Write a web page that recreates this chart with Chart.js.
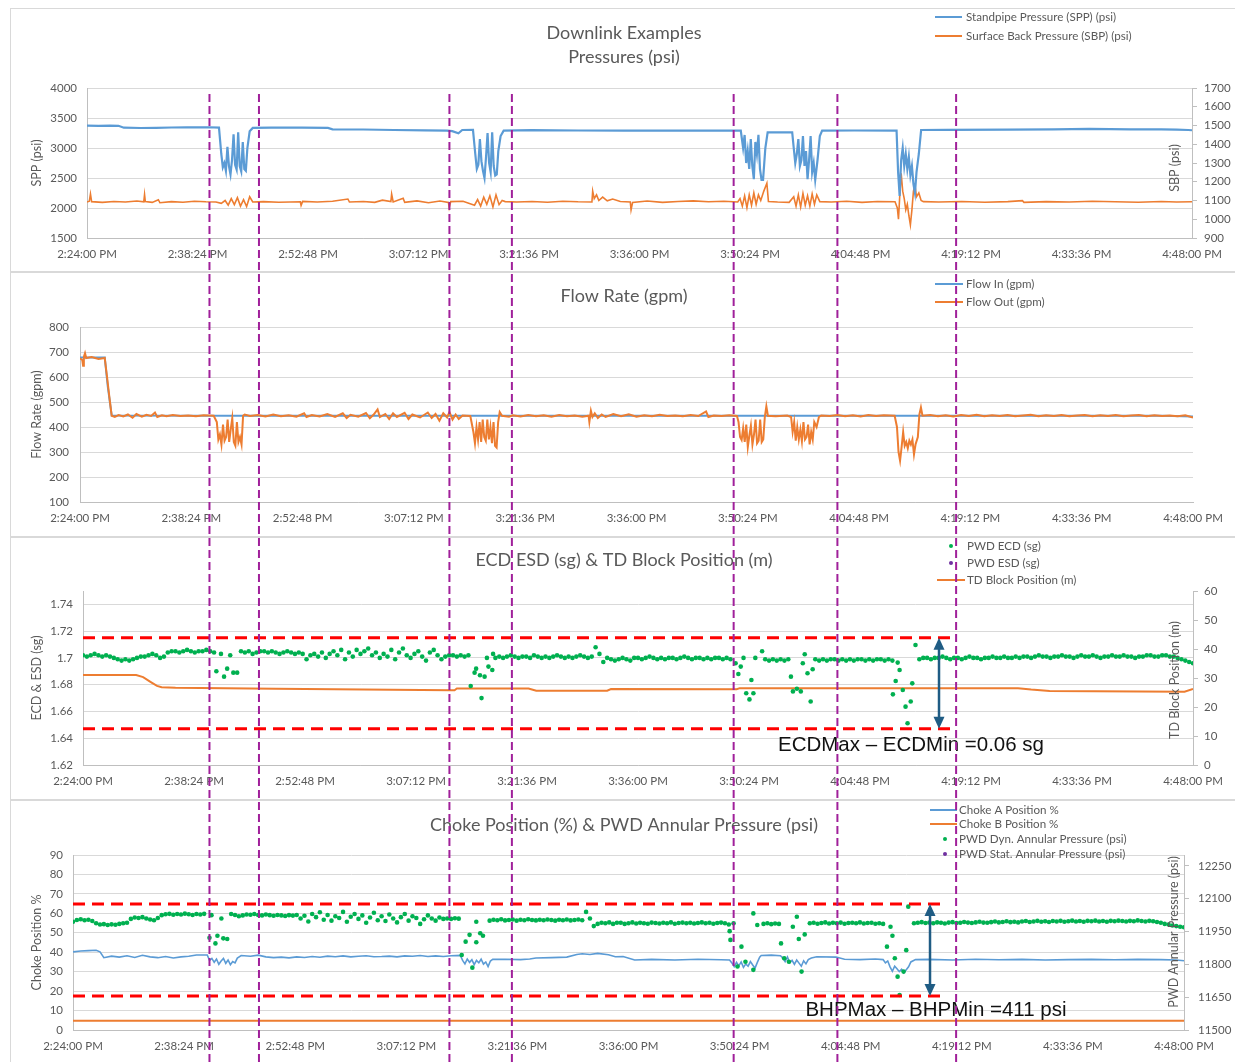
<!DOCTYPE html>
<html>
<head>
<meta charset="utf-8">
<script src="https://cdn.jsdelivr.net/npm/chart.js@4.4.1/dist/chart.umd.min.js"></script>
<style>
  body { margin: 0; background: #fff; width: 1235px; height: 1062px; overflow: hidden; position: relative; }
  .panel { position: absolute; left: 10px; width: 1228px; border: 1px solid #d9d9d9; background: #fff; }
  .panel canvas { display: block; }
  #overlay { position: absolute; left: 0; top: 90px; pointer-events: none; }
</style>
</head>
<body>
<div class="panel" style="top:8px;height:262px"><canvas id="c1" width="1228" height="262"></canvas></div>
<div class="panel" style="top:272px;height:263px"><canvas id="c2" width="1228" height="263"></canvas></div>
<div class="panel" style="top:537px;height:261px"><canvas id="c3" width="1228" height="261"></canvas></div>
<div class="panel" style="top:800px;height:261px"><canvas id="c4" width="1228" height="261"></canvas></div>
<canvas id="overlay" width="1235" height="972"></canvas>
<script>
// time in minutes after 2:24:00 PM
const timeTickLabels = ['2:24:00 PM', '2:38:24 PM', '2:52:48 PM', '3:07:12 PM', '3:21:36 PM', '3:36:00 PM',
  '3:50:24 PM', '4:04:48 PM', '4:19:12 PM', '4:33:36 PM', '4:48:00 PM'];
const tickStepMin = 14.4;

const sppTicks = [1500, 2000, 2500, 3000, 3500, 4000];
const sbpTicks = [900, 1000, 1100, 1200, 1300, 1400, 1500, 1600, 1700];
const flowTicks = [100, 200, 300, 400, 500, 600, 700, 800];
const ecdTicks = [1.62, 1.64, 1.66, 1.68, 1.7, 1.72, 1.74];
const blockTicks = [0, 10, 20, 30, 40, 50, 60];
const chokeTicks = [0, 10, 20, 30, 40, 50, 60, 70, 80, 90];
const annTicks = [11500, 11650, 11800, 11950, 12100, 12250];

// downlink marker times (purple dashed)
const downlinkMarks = [15.96, 22.41, 47.23, 55.37, 84.27, 97.79, 113.26];

// panel 1: pressures [min, psi]
const sppData = [[0,3372],[1.5,3368],[3,3374],[4.1,3370],[4.8,3338],[7,3333],[9,3336],[11,3342],[13,3345],[15.9,3346],[17.2,3340],
  [17.5,2900],[17.7,2680],[17.9,2750],[18.1,2620],[18.3,3020],[18.5,2700],[18.7,2560],[18.9,2800],[19.1,3230],[19.3,2720],
  [19.5,2640],[19.7,3260],[19.9,2700],[20.1,2610],[20.3,3100],[20.5,2650],[20.7,2620],[20.9,3000],[21.2,3280],[21.6,3335],
  [24,3338],[28,3340],[31.4,3336],[32,3312],[36,3308],[40,3300],[44,3294],[46.9,3289],[47.6,3280],[48.4,3245],[48.9,3300],[50.3,3302],
  [50.6,2900],[50.8,2650],[51.0,2720],[51.2,3150],[51.4,2780],[51.6,2620],[51.8,2500],[52.0,2850],[52.2,3250],[52.4,2750],
  [52.6,2600],[52.8,3260],[53.0,2700],[53.2,2540],[53.4,2560],[53.6,2950],[53.9,3200],[54.3,3290],
  [58,3298],[64,3292],[70,3288],[78,3290],[85.2,3289],
  [85.5,3000],[85.7,3217],[85.9,2750],[86.1,2950],[86.3,2650],[86.5,3150],[86.7,2700],[86.9,2480],[87.1,3100],[87.3,2900],
  [87.5,3220],[87.7,2650],[87.9,2470],[88.1,2470],[88.4,3000],[88.7,3262],[91.9,3262],
  [92.1,3000],[92.3,2750],[92.5,2900],[92.7,3150],[92.9,2700],[93.1,2800],[93.3,3200],[93.5,2700],[93.7,2950],[93.9,2480],
  [94.1,2800],[94.3,3200],[94.5,2600],[94.7,2750],[94.9,2470],[95.2,2800],[95.5,3200],[95.8,3290],[100,3292],[105.5,3290],
  [105.7,2600],[105.9,2200],[106.1,2800],[106.3,3000],[106.5,2700],[106.7,2900],[106.9,2650],[107.1,2850],[107.3,2550],
  [107.5,2700],[107.7,2400],[107.9,2250],[108.1,2600],[108.4,2900],[108.7,3300],
  [112,3302],[120,3305],[126,3310],[130.6,3318],[136,3312],[140,3310],[142,3306],[143.5,3300],[144,3296]];

const sbpData = [[0,1092],[0.3,1096],[0.45,1135],[0.6,1094],[2,1090],[3.5,1095],[5,1092],[6.5,1097],[7.4,1093],[7.5,1132],[7.6,1094],
  [8.5,1090],[9.3,1104],[9.5,1088],[11,1094],[12.5,1091],[14,1096],[15.5,1093],[16.8,1092],
  [17.5,1085],[18.0,1100],[18.4,1075],[18.8,1110],[19.2,1078],[19.6,1115],[20.0,1070],[20.4,1105],[20.8,1068],[21.2,1120],[21.6,1092],
  [23,1094],[25,1091],[27.8,1093],[27.9,1074],[28.1,1095],[30,1092],[32,1096],[34,1108],[34.2,1092],[36,1095],[37.5,1090],
  [38.5,1102],[39.6,1094],[39.7,1134],[39.9,1092],[41.2,1112],[41.4,1090],[43,1098],[44.5,1088],[46,1097],[47.1,1090],
  [47.2,1062],[47.4,1094],[49,1096],
  [50.5,1075],[50.9,1105],[51.3,1070],[51.7,1118],[52.1,1080],[52.5,1125],[52.9,1066],[53.3,1130],[53.7,1078],[54.1,1100],[54.5,1094],
  [56,1092],[58,1095],[60,1091],[62,1096],[64,1093],[65.8,1092],[65.9,1150],[66.1,1110],[66.4,1130],[66.7,1100],[67.2,1118],
  [67.8,1098],[68.5,1108],[69.5,1095],[70.8,1092],[70.9,1050],[71.1,1090],[73,1097],[75,1090],[77,1095],[79,1098],[81,1093],[83,1096],
  [84.8,1092],[85.1,1110],[85.4,1070],[85.7,1125],[86.0,1062],[86.3,1130],[86.6,1075],[86.9,1140],[87.2,1080],[87.5,1130],
  [87.8,1100],[88.2,1150],[88.6,1192],[88.8,1095],[90,1092],[91.5,1090],
  [92.1,1120],[92.4,1070],[92.7,1130],[93.0,1065],[93.3,1138],[93.6,1075],[93.9,1125],[94.2,1070],[94.5,1135],[94.8,1080],
  [95.1,1130],[95.5,1094],[97,1092],[99,1096],[101,1090],[103,1095],[105.3,1093],
  [105.6,1060],[105.75,1000],[105.95,1150],[106.1,1245],[106.3,1150],[106.5,1110],[106.7,1050],[106.9,1080],[107.1,1020],
  [107.3,970],[107.5,1050],[107.7,1150],[107.9,1180],[108.1,1120],[108.4,1140],[108.7,1100],[109,1094],
  [111,1092],[114,1095],[117,1091],[120,1094],[121.9,1099],[122.1,1090],[125,1094],[128,1092],[131,1096],[134,1093],
  [137,1091],[140,1095],[142,1092],[144,1093]];

// panel 2: flow rate [min, gpm]
const flowInData = [[0,678],[3.2,678],[3.6,560],[4.1,446],[20,445],[60,445],[100,445],[140,445],[144,442]];
const flowOutData = [[0,675],[0.3,668],[0.4,645],[0.5,680],[0.65,695],[0.8,676],[1.5,680],[2.4,672],[3.2,676],[3.5,600],[3.8,520],
  [4.1,445],[4.5,440],[5,448],[5.6,442],[6.2,450],[6.8,437],[7.3,452],[8,441],[8.6,449],[9.2,444],[9.7,458],[10,440],[10.6,447],
  [11.2,443],[12,448],[13,444],[14,446],[15,443],[16,447],[17.3,445],
  [17.7,420],[17.9,350],[18.1,370],[18.3,330],[18.5,410],[18.7,345],[18.9,360],[19.1,430],[19.3,340],[19.5,390],[19.7,435],
  [19.9,340],[20.1,325],[20.3,420],[20.5,340],[20.7,360],[20.9,330],[21.1,445],[21.3,450],
  [22,444],[23,448],[24,442],[25,450],[26,443],[27,447],[28,441],[29,455],[29.3,440],[30,448],[31,442],[32,452],[33,440],
  [34,455],[34.5,436],[35,449],[36,441],[37,456],[37.5,435],[38,450],[38.5,470],[38.8,440],[39.5,452],[40,432],[40.5,455],
  [41,440],[42,457],[42.5,432],[43,450],[44,438],[45,458],[45.5,436],[46,452],[46.5,425],[47,455],[47.5,438],[47.8,460],
  [48.2,430],[48.6,450],[49,432],[49.5,446],[50.5,444],
  [50.9,380],[51.1,335],[51.3,400],[51.5,350],[51.7,420],[51.9,340],[52.1,430],[52.3,360],[52.5,345],[52.7,430],[52.9,350],
  [53.1,400],[53.3,335],[53.5,420],[53.7,325],[53.9,318],[54.1,420],[54.3,460],[54.6,445],
  [55.5,441],[56,447],[57,442],[58,448],[59,443],[60,447],[61,441],[62,448],[63,443],[64,446],[65,441],[65.8,445],[65.9,420],
  [66.1,465],[66.3,440],[66.6,455],[67,436],[67.5,450],
  [68,440],[69,452],[70,443],[71,451],[72,441],[73,447],[74,443],[75,449],[76,444],[77,446],[78,443],[79,448],[80,444],
  [81,462],[81.3,440],[82,446],[83,444],[84,447],[85,444],
  [85.2,420],[85.4,360],[85.6,348],[85.8,395],[86.0,340],[86.2,410],[86.4,320],[86.6,365],[86.8,405],[87.0,330],[87.2,370],
  [87.4,430],[87.6,335],[87.8,345],[88.0,430],[88.2,340],[88.4,350],[88.6,440],[88.8,483],[89.0,445],[90,443],[91.5,446],
  [92.0,440],[92.2,380],[92.4,420],[92.6,345],[92.8,400],[93.0,350],[93.2,390],[93.4,343],[93.6,420],[93.8,350],[94.0,360],
  [94.2,410],[94.4,330],[94.6,380],[94.8,350],[95.0,420],[95.3,400],[95.6,440],[95.9,446],
  [97,444],[98,448],[99,443],[100,447],[101,442],[102,448],[103,444],[104,447],[105.4,445],
  [105.7,400],[105.9,300],[106.1,265],[106.3,320],[106.5,380],[106.7,325],[106.9,340],[107.1,315],[107.3,345],[107.5,330],
  [107.7,350],[107.9,290],[108.1,330],[108.4,360],[108.6,450],[108.8,478],[109,445],
  [110,448],[111,443],[112,447],[113,442],[114,448],[115,444],[116,449],[117,443],[118,447],[119,444],[120,448],[121,443],
  [122,446],[123,449],[124,443],[125,447],[126,444],[127,448],[128,443],[129,446],[130,448],[131,443],[132,447],[133,444],
  [134,448],[135,443],[136,446],[137,448],[138,443],[139,447],[140,444],[141,446],[142,443],[143,447],[144,438]];

// panel 3: PWD ECD, logged every 0.5 min: [start min, values]
const ecdStep = 0.5;
const ecdSegments = [
  [0, [1.702,1.701,1.702,1.703,1.702,1.701,1.702,1.701,1.700,1.699,1.698,1.699,1.698,1.699,1.700,1.701,1.701,1.702,
       1.703,1.702,1.700,1.701,1.704,1.705,1.705,1.704,1.705,1.706,1.705,1.704,1.705,1.705,1.706,1.705,1.704]],
  [20.5, [1.705,1.704,1.705,1.703,1.704,1.705,1.705,1.704,1.705,1.704,1.703,1.704,1.705,1.704,1.703,1.704,1.703,
       1.699,1.702,1.703,1.701,1.704,1.700,1.703,1.705,1.702,1.706,1.699,1.704,1.701,1.706,1.703,1.705,1.707,1.702,
       1.704,1.700,1.703,1.701,1.706,1.699,1.704,1.707,1.702,1.700,1.703,1.705,1.701,1.698,1.704,1.706,1.702,1.699,
       1.701,1.702,1.702,1.701,1.702,1.701,1.702]],
  [53.5, [1.700,1.701,1.700,1.701,1.702,1.701,1.700,1.701,1.701,1.700,1.702,1.701,1.700,1.701,1.700,1.701,1.702,
       1.701,1.700,1.701,1.700,1.701,1.702,1.701,1.700,1.701,1.708,1.703,1.697,1.700,1.699,1.698,
       1.699,1.700,1.699,1.698,1.700,1.700,1.699,1.700,1.701,1.700,1.699,1.700,1.699,1.700,1.700,1.699,1.700,1.701,
       1.700,1.699,1.700,1.700,1.699,1.700,1.699,1.700,1.700,1.699,1.700,1.699]],
  [88.5, [1.699,1.698,1.699,1.698,1.699,1.698,1.699]],
  [95, [1.699,1.698,1.699,1.698,1.699,1.699,1.698,1.699,1.698,1.699,1.698,1.699,1.699,1.698,1.699,1.698,1.699,
       1.699,1.698,1.699,1.698]],
  [108.5, [1.699,1.700,1.700,1.699,1.700,1.700,1.701,1.700,1.699,1.700,1.700,1.699,1.700,1.701,1.700,1.700,1.699,
       1.700,1.700,1.701,1.700,1.700,1.701,1.700,1.700,1.701,1.700,1.701,1.701,1.700,1.701,1.702,1.701,1.701,1.700,
       1.701,1.701,1.702,1.701,1.701,1.700,1.701,1.702,1.701,1.701,1.702,1.701,1.700,1.701,1.701,1.702,1.701,1.701,
       1.702,1.701,1.701,1.700,1.701,1.701,1.702,1.702,1.701,1.701,1.702,1.702,1.701,1.701,1.700,1.699,1.698,1.697,1.696]]
];
// scattered ECD readings during downlinks
const ecdDownlinkDots = [[17.3,1.690],[17.9,1.703],[18.3,1.686],[18.7,1.692],[19.1,1.702],[19.5,1.689],[20.0,1.689],
  [50.3,1.679],[50.8,1.689],[51.0,1.692],[51.5,1.687],[51.7,1.670],[52.1,1.686],[52.4,1.700],[52.6,1.6935],[53.1,1.691],[53.2,1.703],
  [84.66,1.696],[85.02,1.688],[85.33,1.6935],[85.69,1.700],[86.04,1.6736],[86.46,1.669],[86.71,1.6835],[86.97,1.6736],[87.22,1.700],[88.1,1.705],
  [91.84,1.686],[92.1,1.675],[92.61,1.677],[93.12,1.675],[93.38,1.696],[93.63,1.7027],[93.99,1.6885],[94.4,1.6674],[94.66,1.6915],
  [105.07,1.6728],[105.43,1.6828],[105.69,1.6965],[105.94,1.691],[106.35,1.676],[106.71,1.6636],[106.97,1.6512],[107.38,1.6674],[107.58,1.681],[108.0,1.7097]];
const esdData = [];
const blockData = [[0,31.0],[6.9,31.0],[7.8,30.3],[8.8,28.6],[9.6,27.3],[10.2,26.8],[12,26.6],[25,26.3],[47.7,25.8],[48.2,25.8],
  [48.5,26.4],[57.8,26.4],[58.8,25.6],[68,25.6],[68.5,26.2],[84.8,26.1],[85.2,26.5],[121.3,26.5],[123,26.0],[125.4,25.5],
  [142.9,25.3],[144,26.2]];
const ecdLimits = [1.715, 1.647];
const ecdLimitEnd = 113.26;
const ecdArrowTime = 111.05;
const ecdNote = 'ECDMax \u2013 ECDMin =0.06 sg';

// panel 4: choke % and annular pressure
const chokeAData = [[0,40.2],[1,40.6],[2,40.8],[3,41.0],[3.5,40.2],[4,37.2],[5,38.0],[6,37.5],[7,38.2],[8,37.3],[9,38.4],[10,37.6],
  [11,37.2],[12,37.8],[13,37.0],[14,37.6],[15,37.9],[16,38.6],[17.4,38.6],
  [17.7,35.8],[18.0,36.8],[18.3,34.8],[18.6,36.5],[18.9,33.8],[19.2,35.5],[19.5,36.8],[19.8,34.3],[20.1,36.0],[20.4,33.6],
  [20.7,35.2],[21.0,34.5],[21.3,37.0],[21.8,38.3],
  [23,37.9],[24,38.5],[25,37.6],[26,37.2],[27,37.5],[28,37.1],[29,37.6],[30,37.3],[31,37.8],[32,37.4],[33,38.0],[34,37.7],
  [35,38.1],[36,37.6],[37,37.9],[38,38.2],[39,37.7],[40,37.8],[41,38.0],[42,37.6],[43,38.1],[44,37.9],[45,38.3],[46,37.8],
  [47,38.1],[48,37.8],[49,38.2],[50.2,38.4],
  [50.5,35.8],[50.8,34.0],[51.1,36.5],[51.4,34.8],[51.7,36.2],[52.0,33.6],[52.3,35.8],[52.6,34.6],[52.9,36.4],[53.2,33.9],
  [53.5,35.0],[53.8,32.6],[54.1,35.5],[54.4,36.3],
  [56,36.4],[58,36.2],[59.2,36.5],[60,37.0],[62,37.2],[64,37.5],[65.3,38.8],[66,39.2],[67,38.8],[68,39.4],[69.4,38.7],
  [70.3,37.7],[71.3,37.8],[72.8,36.0],[75,36.3],[78,36.0],[81,36.4],[84,36.1],[85.1,36.0],
  [85.4,34.5],[85.7,32.6],[86.0,34.8],[86.3,33.0],[86.6,35.0],[86.9,32.2],[87.2,34.0],[87.5,32.8],[87.8,35.2],[88.1,33.4],
  [88.4,31.8],[88.7,34.8],[89.0,37.5],[89.2,38.3],[90.5,38.5],[91.7,38.2],
  [92.0,37.0],[92.3,35.2],[92.6,37.6],[92.9,34.6],[93.2,35.8],[93.5,33.8],[93.8,36.0],[94.1,34.4],[94.4,32.8],[94.7,35.6],
  [95.0,34.0],[95.3,36.2],[95.7,37.0],[96.4,37.7],[98.9,37.5],[100,36.4],[102,36.2],[104,36.5],[105.0,36.2],
  [105.3,34.5],[105.6,35.5],[105.9,32.5],[106.2,30.2],[106.5,32.8],[106.8,31.5],[107.1,30.0],[107.4,31.2],[107.7,29.4],
  [108.0,31.0],[108.3,32.5],[108.6,35.0],[109.2,36.2],
  [111,36.3],[114,36.0],[117,36.4],[120,36.1],[123,36.3],[126,36.0],[129,36.2],[132,36.3],[135,36.1],[138,36.3],[141,36.2],
  [143,36.0],[144,35.6]];
const chokeBData = [[0,4.8],[72,4.8],[144,4.8]];
const annStep = 0.5;
const annSegments = [
  [0, [11995,12003,12006,12002,12004,11998,11988,11982,11984,11980,11983,11981,11985,11988,11990,12008,12014,12012,
       12016,12010,12005,12002,12012,12025,12029,12031,12027,12030,12028,12032,12029,12026,12030,12028,12031]],
  [20.5, [12030,12026,12020,12024,12028,12027,12030,12026,12024,12028,12025,12022,12026,12024,12021,12025,12023,12026,
       12010,12022,11996,12030,12016,12038,12004,12026,12000,12020,12012,12040,11995,12018,12030,12008,12024,11990,
       12014,12036,12002,12020,11998,12028,12010,11992,12016,12030,12000,12020,12012,11985,12006,12024,12010,12000,
       12014,12008,12010,12008,12011,12009]],
  [54, [12000,12004,12002,12006,12001,12003,12005,12000,12004,12002,12006,12003,12001,12004,12002,12005,12003,12000,
       12004,12002,12005,12001,12003,12005,12002,12040,12010,11975,11985,11990,11988,11992,11985,11990,
       11990,11985,11988,11992,11987,11990,11988,11986,11991,11989,11987,11990,11988,11992,11986,11989,11991,11988,
       11990,11987,11989,11992,11988,11990,11986,11989,11991,11988,11982]],
  [89.5, [11985,11988,11984,11987,11985]],
  [95.5, [11988,11990,11986,11989,11992,11987,11990,11988,11991,11986,11989,11990,11988,11992,11987,11989,11990,
       11986,11988,11985]],
  [109, [11988,11990,11993,11989,11991,11988,11992,11990,11987,11991,11993,11989,11990,11994,11991,11989,11992,11995,
       11991,11990,11993,11996,11992,11994,11997,11993,11995,11992,11996,11998,11994,11996,11999,11995,11997,11994,
       11998,11996,11999,11995,11997,12000,11996,11998,11995,11999,11997,12000,11996,11998,11995,11999,11997,12000,
       11998,11996,11999,11997,12001,11998,11996,11999,11997,11994,11990,11985,11982,11978,11975,11972,11970]]
];
const annDownlinkDots = [[17.69,11922],[17.95,12025],[18.46,11896],[18.72,11931],[19.23,12010],[19.48,11919],[19.99,11916],
  [50.38,11843],[50.89,11904],[51.4,11935],[51.76,11785],[52.27,11995],[52.27,11901],[52.78,11942],[53.14,11931],
  [85.11,11952],[85.21,11912],[85.62,11988],[86.13,11790],[86.64,11881],[87.16,11812],[88.18,12033],[88.18,11775],[88.69,11980],
  [91.77,11896],[92.18,11828],[92.79,11812],[93.3,11972],[93.82,12018],[94.07,11916],[94.43,11767],[94.84,11937],
  [105.5,11881],[105.96,11972],[106.21,11931],[106.52,11828],[106.88,11744],[107.14,11660],[107.65,11767],[108.0,11865],[108.26,12064]];
const statData = [];
const bhpLimits = [12076, 11655];
const bhpLimitEnd = 113.28;
const bhpArrowTime = 111.08;
const bhpNote = 'BHPMax \u2013 BHPMin =411 psi';

// ---------------------------------------------------------------
const BLUE = '#5b9bd5', ORANGE = '#ed7d31', GREEN = '#00b050', PURPLE = '#7030a0', RED = '#ff0000';
const FONT = 'Lato, "Open Sans", sans-serif';

Chart.defaults.font.family = FONT;
Chart.defaults.font.size = 11.5;
Chart.defaults.color = '#595959';

function pts(pairs) { return pairs.map(p => ({ x: p[0], y: p[1] })); }
function segPts(segs, step) {
  const out = [];
  segs.forEach(([t0, vals]) => vals.forEach((v, i) => out.push({ x: t0 + i * step, y: v })));
  return out;
}

const decor = {
  id: 'decor',
  afterDatasetsDraw(chart, args, o) {
    if (!o.arrow) return;
    const ctx = chart.ctx;
    const ys = chart.scales[o.arrow.axis];
    const x = chart.scales.x.getPixelForValue(o.arrow.t);
    const y1 = ys.getPixelForValue(o.arrow.from), y2 = ys.getPixelForValue(o.arrow.to);
    ctx.save();
    ctx.strokeStyle = '#1f5c84'; ctx.fillStyle = '#1f5c84'; ctx.lineWidth = 2.5;
    ctx.beginPath(); ctx.moveTo(x, y1 + 10); ctx.lineTo(x, y2 - 10); ctx.stroke();
    ctx.beginPath(); ctx.moveTo(x, y1); ctx.lineTo(x - 5.5, y1 + 12); ctx.lineTo(x + 5.5, y1 + 12); ctx.closePath(); ctx.fill();
    ctx.beginPath(); ctx.moveTo(x, y2); ctx.lineTo(x - 5.5, y2 - 12); ctx.lineTo(x + 5.5, y2 - 12); ctx.closePath(); ctx.fill();
    ctx.restore();
  },
  afterDraw(chart, args, o) {
    const ctx = chart.ctx;
    ctx.save();
    ctx.fillStyle = '#595959';
    ctx.textAlign = 'center'; ctx.textBaseline = 'middle';
    ctx.font = '18px ' + FONT;
    (o.titles || []).forEach(t => ctx.fillText(t[0], 613, t[1]));
    if (o.legend) {
      const L = o.legend;
      ctx.font = '11.6px ' + FONT;
      ctx.textAlign = 'left';
      L.rows.forEach(([idx, y]) => {
        const ds = chart.data.datasets[idx];
        if (ds.showLine === false) {
          ctx.fillStyle = ds.pointBackgroundColor;
          ctx.beginPath(); ctx.arc(L.dot, y, 2, 0, Math.PI * 2); ctx.fill();
        } else {
          ctx.strokeStyle = ds.borderColor; ctx.lineWidth = 2;
          ctx.beginPath(); ctx.moveTo(L.x0, y); ctx.lineTo(L.x1, y); ctx.stroke();
        }
        ctx.fillStyle = '#595959';
        ctx.fillText(ds.label, L.text, y);
      });
    }
    if (o.rightTitle) {
      const r = o.rightTitle;
      ctx.save();
      ctx.translate(r.x, r.y); ctx.rotate(-Math.PI / 2);
      ctx.textAlign = 'center'; ctx.fillStyle = '#595959';
      ctx.font = '12.5px ' + FONT;
      ctx.fillText(r.text, 0, 0);
      ctx.restore();
    }
    if (o.note) {
      ctx.textAlign = 'center'; ctx.fillStyle = '#111';
      ctx.font = '20.5px "Liberation Sans", Arial, sans-serif';
      ctx.fillText(o.note.text, o.note.x, o.note.y);
    }
    ctx.restore();
  }
};

function timeAxis(h) {
  return {
    type: 'linear', position: 'bottom', min: 0, max: 144,
    afterBuildTicks: s => { s.ticks = timeTickLabels.map((l, i) => ({ value: i * tickStepMin })); },
    afterFit: s => { s.height = h; },
    ticks: { autoSkip: false, maxRotation: 0, minRotation: 0, padding: 9, callback: (v, i) => timeTickLabels[i] },
    grid: { drawOnChartArea: false, drawTicks: false },
    border: { color: '#bfbfbf' }
  };
}
function leftAxis(min, max, ticks, title, w, pad) {
  return {
    type: 'linear', position: 'left', min, max,
    afterBuildTicks: s => { s.ticks = ticks.map(v => ({ value: v })); },
    afterFit: s => { s.width = w; },
    ticks: { padding: pad, callback: v => String(v) },
    grid: { color: '#d9d9d9', drawTicks: false },
    border: { color: '#bfbfbf' },
    title: { display: true, text: title, font: { size: 12.5 }, padding: { top: 18.5, bottom: 0 } }
  };
}
function rightAxis(min, max, ticks, w, pad) {
  return {
    type: 'linear', position: 'right', min, max,
    afterBuildTicks: s => { s.ticks = ticks.map(v => ({ value: v })); },
    afterFit: s => { s.width = w; },
    ticks: { padding: pad, callback: v => String(v) },
    grid: { drawOnChartArea: false, drawTicks: true, tickLength: 5, color: '#bfbfbf' },
    border: { color: '#bfbfbf' }
  };
}
function opts(top, padRight, scales, dec) {
  return {
    responsive: false, animation: false, devicePixelRatio: 1,
    layout: { padding: { left: 0, right: padRight, top, bottom: 0 } },
    plugins: { legend: { display: false }, tooltip: { enabled: false }, decor: dec },
    elements: { point: { radius: 0 }, line: { tension: 0 } },
    scales
  };
}
// lower order is drawn on top
function lineDs(label, data, color, width, axis, order) {
  return { label, data: pts(data), borderColor: color, backgroundColor: color, borderWidth: width,
    pointRadius: 0, yAxisID: axis, order };
}
function dotDs(label, data, color, axis, order) {
  return { label, data, showLine: false, pointRadius: 2.3, pointBackgroundColor: color, pointBorderWidth: 0,
    borderColor: color, yAxisID: axis, order };
}
function limitDs(value, end, axis) {
  return { label: '', data: [{ x: 0, y: value }, { x: end, y: value }], borderColor: RED, borderWidth: 3,
    borderDash: [12, 7], pointRadius: 0, yAxisID: axis, order: 0 };
}

// Panel 1
new Chart(document.getElementById('c1'), {
  type: 'line',
  data: { datasets: [
    lineDs('Standpipe Pressure (SPP) (psi)', sppData, BLUE, 2.2, 'y', 1),
    lineDs('Surface Back Pressure (SBP) (psi)', sbpData, ORANGE, 1.6, 'y2', 2)
  ] },
  options: opts(79, 0, {
    x: timeAxis(33),
    y: leftAxis(1500, 4000, sppTicks, 'SPP (psi)', 76, 10),
    y2: rightAxis(900, 1700, sbpTicks, 47, 7)
  }, {
    titles: [['Downlink Examples', 24], ['Pressures (psi)', 48]],
    legend: { x0: 924, x1: 951, dot: 938, text: 955, rows: [[0, 8], [1, 27]] },
    rightTitle: { text: 'SBP (psi)', x: 1164, y: 159 }
  }),
  plugins: [decor]
});

// Panel 2
new Chart(document.getElementById('c2'), {
  type: 'line',
  data: { datasets: [
    lineDs('Flow In (gpm)', flowInData, BLUE, 2, 'y', 2),
    lineDs('Flow Out (gpm)', flowOutData, ORANGE, 2, 'y', 1)
  ] },
  options: opts(54, 46, {
    x: timeAxis(34),
    y: leftAxis(100, 800, flowTicks, 'Flow Rate (gpm)', 69, 11)
  }, {
    titles: [['Flow Rate (gpm)', 23]],
    legend: { x0: 924, x1: 952, dot: 938, text: 955, rows: [[0, 11], [1, 29]] }
  }),
  plugins: [decor]
});

// Panel 3
new Chart(document.getElementById('c3'), {
  type: 'line',
  data: { datasets: [
    dotDs('PWD ECD (sg)', segPts(ecdSegments, ecdStep).concat(pts(ecdDownlinkDots)), GREEN, 'y', 1),
    dotDs('PWD ESD (sg)', esdData, PURPLE, 'y', 1),
    lineDs('TD Block Position (m)', blockData, ORANGE, 2, 'y2', 2),
    limitDs(ecdLimits[0], ecdLimitEnd, 'y'),
    limitDs(ecdLimits[1], ecdLimitEnd, 'y')
  ] },
  options: opts(53, 0, {
    x: timeAxis(34),
    y: leftAxis(1.62, 1.75, ecdTicks, 'ECD & ESD (sg)', 72, 10),
    y2: rightAxis(0, 60, blockTicks, 46, 6)
  }, {
    titles: [['ECD ESD (sg) & TD Block Position (m)', 22]],
    legend: { x0: 926, x1: 954, dot: 940, text: 956, rows: [[0, 8], [1, 25], [2, 42]] },
    rightTitle: { text: 'TD Block Position (m)', x: 1164, y: 142 },
    arrow: { axis: 'y', t: ecdArrowTime, from: ecdLimits[0], to: ecdLimits[1] },
    note: { text: ecdNote, x: 900, y: 207 }
  }),
  plugins: [decor]
});

// Panel 4
new Chart(document.getElementById('c4'), {
  type: 'line',
  data: { datasets: [
    lineDs('Choke A Position %', chokeAData, BLUE, 1.6, 'y', 2),
    lineDs('Choke B Position %', chokeBData, ORANGE, 2, 'y', 2),
    dotDs('PWD Dyn. Annular Pressure (psi)', segPts(annSegments, annStep).concat(pts(annDownlinkDots)), GREEN, 'y2', 1),
    dotDs('PWD Stat. Annular Pressure (psi)', statData, PURPLE, 'y2', 1),
    limitDs(bhpLimits[0], bhpLimitEnd, 'y2'),
    limitDs(bhpLimits[1], bhpLimitEnd, 'y2')
  ] },
  options: opts(54, 0, {
    x: timeAxis(32),
    y: leftAxis(0, 90, chokeTicks, 'Choke Position %', 62, 10),
    y2: rightAxis(11500, 12300, annTicks, 55, 9)
  }, {
    titles: [['Choke Position (%) & PWD Annular Pressure (psi)', 24]],
    legend: { x0: 919, x1: 946, dot: 934, text: 948, rows: [[0, 9], [1, 23], [2, 38], [3, 53]] },
    rightTitle: { text: 'PWD Annular Pressure (psi)', x: 1163, y: 131 },
    arrow: { axis: 'y2', t: bhpArrowTime, from: bhpLimits[0], to: bhpLimits[1] },
    note: { text: bhpNote, x: 925, y: 209 }
  }),
  plugins: [decor]
});

// purple downlink markers across all panels (time axis of the top panel)
new Chart(document.getElementById('overlay'), {
  type: 'line',
  data: { datasets: downlinkMarks.map(t => ({
    data: [{ x: t, y: 0 }, { x: t, y: 1 }], borderColor: '#a0209a', borderWidth: 2, borderDash: [8, 4], pointRadius: 0
  })) },
  options: {
    responsive: false, animation: false, devicePixelRatio: 1,
    layout: { padding: { left: 87, right: 43, top: 0, bottom: 0 } },
    plugins: { legend: { display: false }, tooltip: { enabled: false } },
    scales: {
      x: { type: 'linear', min: 0, max: 144, display: false },
      y: { min: 0, max: 1, display: false }
    }
  }
});
</script>
</body>
</html>
